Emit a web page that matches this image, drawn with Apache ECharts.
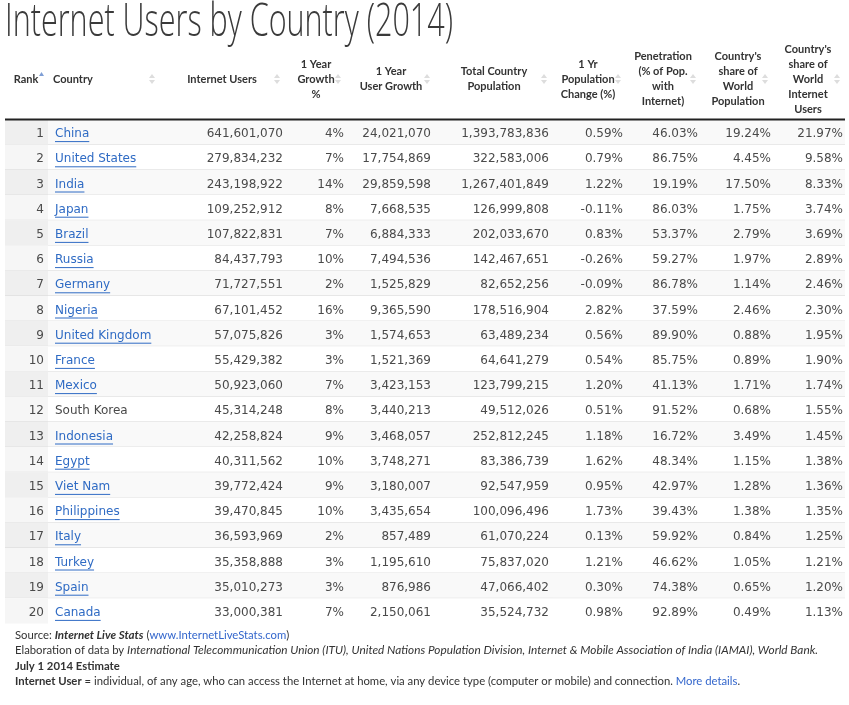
<!DOCTYPE html>
<html><head><meta charset="utf-8">
<script src="https://cdn.jsdelivr.net/npm/echarts@6/dist/echarts.min.js"></script>
<style>html,body{margin:0;padding:0;background:#fff}#main{width:849px;height:705px}</style>
</head><body><div id="main"></div>
<script>
const ranks = [1,2,3,4,5,6,7,8,9,10,11,12,13,14,15,16,17,18,19,20];
const countries = ['China','United States','India','Japan','Brazil','Russia','Germany','Nigeria','United Kingdom','France','Mexico','South Korea','Indonesia','Egypt','Viet Nam','Philippines','Italy','Turkey','Spain','Canada'];
const linked = [true,true,true,true,true,true,true,true,true,true,true,false,true,true,true,true,true,true,true,true];
const internetUsers = [641601070,279834232,243198922,109252912,107822831,84437793,71727551,67101452,57075826,55429382,50923060,45314248,42258824,40311562,39772424,39470845,36593969,35358888,35010273,33000381];
const growthPct = [4,7,14,8,7,10,2,16,3,3,7,8,9,10,9,10,2,3,3,7];
const userGrowth = [24021070,17754869,29859598,7668535,6884333,7494536,1525829,9365590,1574653,1521369,3423153,3440213,3468057,3748271,3180007,3435654,857489,1195610,876986,2150061];
const population = [1393783836,322583006,1267401849,126999808,202033670,142467651,82652256,178516904,63489234,64641279,123799215,49512026,252812245,83386739,92547959,100096496,61070224,75837020,47066402,35524732];
const popChange = [0.59,0.79,1.22,-0.11,0.83,-0.26,-0.09,2.82,0.56,0.54,1.20,0.51,1.18,1.62,0.95,1.73,0.13,1.21,0.30,0.98];
const penetration = [46.03,86.75,19.19,86.03,53.37,59.27,86.78,37.59,89.90,85.75,41.13,91.52,16.72,48.34,42.97,39.43,59.92,46.62,74.38,92.89];
const worldPopShare = [19.24,4.45,17.50,1.75,2.79,1.97,1.14,2.46,0.88,0.89,1.71,0.68,3.49,1.15,1.28,1.38,0.84,1.05,0.65,0.49];
const worldUserShare = [21.97,9.58,8.33,3.74,3.69,2.89,2.46,2.30,1.95,1.90,1.74,1.55,1.45,1.38,1.36,1.35,1.25,1.21,1.20,1.13];
const headers = [
  ['Rank'], ['Country'], ['Internet Users'], ['1 Year','Growth','%'], ['1 Year','User Growth'],
  ['Total Country','Population'], ['1 Yr','Population','Change (%)'], ['Penetration','(% of Pop.','with','Internet)'],
  ["Country's",'share of','World','Population'], ["Country's",'share of','World','Internet','Users']
];
const titleText = 'Internet Users by Country (2014)';

const fmtInt = v => v.toLocaleString('en-US');
const fmtPct = v => v + '%';
const fmtPct2 = v => v.toFixed(2) + '%';

const BODY_FONT = '12px "DejaVu Sans"';
const mctx = document.createElement('canvas').getContext('2d');
function textWidth(t, font){ mctx.font = font; return mctx.measureText(t).width; }

// layout (pixel positions on a 0..849 x-scale)
const TABLE_L = 5, TABLE_R = 845, RANK_R = 48, TEXT_DY = 2;
const columns = [
  {vals: ranks, x: 44, align: 'right', fmt: String},
  {vals: countries, x: 55, align: 'left', fmt: String, link: true},
  {vals: internetUsers, x: 283, align: 'right', fmt: fmtInt},
  {vals: growthPct, x: 344, align: 'right', fmt: fmtPct},
  {vals: userGrowth, x: 431, align: 'right', fmt: fmtInt},
  {vals: population, x: 549, align: 'right', fmt: fmtInt},
  {vals: popChange, x: 623, align: 'right', fmt: fmtPct2},
  {vals: penetration, x: 698, align: 'right', fmt: fmtPct2},
  {vals: worldPopShare, x: 771, align: 'right', fmt: fmtPct2},
  {vals: worldUserShare, x: 843, align: 'right', fmt: fmtPct2}
];
const headerAlign = ['center','left','center','center','center','center','center','center','center','center'];
const headerX = [26, 53, 222, 316, 391, 494, 588, 663, 738, 808];
const iconX = [0, 152, 277, 338, 427, 544, 618, 693, 765, 837];

const LINK = '#2f6bc4', TXT = '#4a4a4a';

function renderItem(params, api){
  const i = api.value(1);
  const yc = api.coord([0, i])[1];
  const h = api.size([0, 1])[1];
  const top = yc - h / 2;
  const ty = yc + TEXT_DY;
  const xL = api.coord([TABLE_L, i])[0], xR = api.coord([TABLE_R, i])[0], xRank = api.coord([RANK_R, i])[0];
  const odd = i % 2 === 0;
  const ch = [];
  ch.push({type:'rect', shape:{x:xL, y:top, width:xR-xL, height:h}, style:{fill: odd ? '#f9f9f9' : '#ffffff'}});
  ch.push({type:'rect', shape:{x:xL, y:top, width:xRank-xL, height:h}, style:{fill: odd ? '#efefef' : '#f6f6f6'}});
  if (i < ranks.length - 1) {
    ch.push({type:'line', shape:{x1:xL, y1:top+h, x2:xR, y2:top+h}, style:{stroke:'#dddddd', lineWidth:1}});
  }
  columns.forEach(col => {
    const x = api.coord([col.x, i])[0];
    const t = col.fmt(col.vals[i]);
    const isLink = col.link && linked[i];
    ch.push({type:'text', style:{x:x, y:ty, text:t, font:BODY_FONT, fill: isLink ? LINK : TXT,
      textAlign: col.align, align: col.align, textVerticalAlign:'middle', verticalAlign:'middle'}});
    if (isLink) {
      const w = textWidth(t, BODY_FONT);
      ch.push({type:'line', shape:{x1:x, y1:ty+7.5, x2:x+w, y2:ty+7.5}, style:{stroke:LINK, lineWidth:1}});
    }
  });
  if (i === 0) {
    ch.push({type:'line', shape:{x1:xL, y1:top, x2:xR, y2:top}, style:{stroke:'#222222', lineWidth:2}});
  }
  return {type:'group', children: ch};
}

const graphics = [];
// title
const TITLE_FONT = '300 46px "Open Sans"';
const tScale = 448 / textWidth(titleText, TITLE_FONT);
graphics.push({type:'text', x:5, y:23, scaleX:tScale, scaleY:1, style:{x:0, y:0, text:titleText, font:TITLE_FONT, fill:'#3a3a3a', textAlign:'left', align:'left', textVerticalAlign:'middle', verticalAlign:'middle'}});
// headers
headers.forEach((lines, k) => {
  graphics.push({type:'text', style:{x:headerX[k], y:79, text:lines.join('\n'), font:'bold 11px Lato', lineHeight:15, fill:'#333333',
    textAlign:headerAlign[k], align:headerAlign[k], textVerticalAlign:'middle', verticalAlign:'middle'}});
  if (iconX[k]) {
    const ix = iconX[k];
    graphics.push({type:'polygon', shape:{points:[[ix-3,78],[ix+3,78],[ix,74]]}, style:{fill:'#dddddd'}});
    graphics.push({type:'polygon', shape:{points:[[ix-3,80],[ix+3,80],[ix,84]]}, style:{fill:'#dddddd'}});
  }
});
graphics.push({type:'polygon', shape:{points:[[39,76],[44,76],[41.5,72]]}, style:{fill:'#7f9fd6'}});
// footer
const footRich = {
  n:{font:'11.3px Lato', fill:'#333'}, i:{font:'italic 11.8px Lato', fill:'#333'},
  bi:{font:'italic bold 11.6px Lato', fill:'#333'}, b:{font:'bold 11.3px Lato', fill:'#333'},
  l:{font:'11.3px Lato', fill:'#3366cc'}
};
const footLines = [
  '{n|Source: }{bi|Internet Live Stats}{n| (}{l|www.InternetLiveStats.com}{n|)}',
  '{n|Elaboration of data by }{i|International Telecommunication Union (ITU), United Nations Population Division, Internet & Mobile Association of India (IAMAI), World Bank.}',
  '{b|July 1 2014 Estimate}',
  '{b|Internet User}{n| = individual, of any age, who can access the Internet at home, via any device type (computer or mobile) and connection. }{l|More details}{n|.}'
];
const footY = [635, 650, 666, 681];
footLines.forEach((t, k) => {
  graphics.push({type:'text', style:{x:15, y:footY[k], text:t, rich:footRich, textAlign:'left', align:'left', textVerticalAlign:'middle', verticalAlign:'middle'}});
});

const chart = echarts.init(document.getElementById('main'));
chart.setOption({
  animation:false,
  grid:{left:0, right:0, top:119.5, bottom:81.5},
  xAxis:{type:'value', min:0, max:849, show:false},
  yAxis:{type:'category', data:ranks.map(String), inverse:true, show:false},
  series:[{type:'custom', renderItem:renderItem, data:ranks.map((r, i) => [0, i]), encode:{x:0, y:1}, silent:true}],
  graphic:{elements:graphics}
});
</script></body></html>
